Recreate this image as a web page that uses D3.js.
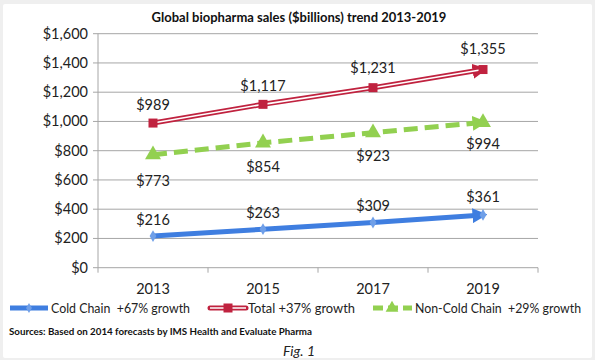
<!DOCTYPE html>
<html><head><meta charset="utf-8">
<script src="https://cdn.jsdelivr.net/npm/d3@7"></script>
<style>body{margin:0;background:#fff}svg{display:block}</style>
</head><body>
<svg id="c" width="595" height="360"></svg>
<script>
const years = ["2013","2015","2017","2019"];
const coldChain = [216,263,309,361];
const total = [989,1117,1231,1355];
const nonCold = [773,854,923,994];
const yTicks = [0,200,400,600,800,1000,1200,1400,1600];
const legendLabels = ["Cold Chain  +67% growth","Total +37% growth","Non-Cold Chain  +29% growth"];

const svg = d3.select("#c");
const font = "Lato, 'Open Sans', sans-serif";
svg.append("rect").attr("width",595).attr("height",360).attr("fill","#efefef");
svg.append("rect").attr("x",3).attr("y",4).attr("width",589).attr("height",354).attr("fill","#fff").attr("rx",2);

const x = d3.scaleBand().domain(years).range([98,538]);
const y = d3.scaleLinear().domain([0,1600]).range([267.7,33.7]);
const cx = d => x(d)+x.bandwidth()/2;

svg.append("g").selectAll("line").data(yTicks).join("line")
  .attr("x1",98).attr("x2",538).attr("y1",d=>y(d)).attr("y2",d=>y(d))
  .attr("stroke","#a6a6a6").attr("stroke-width",1);
svg.append("line").attr("x1",98).attr("x2",98).attr("y1",y(1600)).attr("y2",y(0)).attr("stroke","#a6a6a6");
svg.append("g").selectAll("line").data(yTicks).join("line")
  .attr("x1",93).attr("x2",98).attr("y1",d=>y(d)).attr("y2",d=>y(d)).attr("stroke","#a6a6a6");
const edges = years.map(d=>x(d)).concat([x(years[years.length-1])+x.bandwidth()]);
svg.append("g").selectAll("line").data(edges).join("line")
  .attr("x1",d=>d).attr("x2",d=>d).attr("y1",y(0)).attr("y2",y(0)+5).attr("stroke","#a6a6a6");

svg.append("g").selectAll("text").data(yTicks).join("text")
  .attr("x",88).attr("y",d=>y(d)+5).attr("text-anchor","end")
  .attr("font-family",font).attr("font-size",14.5).attr("fill","#222")
  .text(d=>"$"+d3.format(",")(d));
svg.append("g").selectAll("text").data(years).join("text")
  .attr("x",d=>cx(d)).attr("y",294).attr("text-anchor","middle")
  .attr("font-family",font).attr("font-size",14.5).attr("fill","#222").text(d=>d);

svg.append("text").attr("x",299).attr("y",22).attr("text-anchor","middle")
  .attr("font-family",font).attr("font-weight","bold").attr("font-size",13).attr("fill","#111")
  .text("Global biopharma sales ($billions) trend 2013-2019");

const blue="#3f7ee0", red="#c0223f", green="#92d050";
const defs = svg.append("defs");
function arrow(id,color){
  defs.append("marker").attr("id",id).attr("viewBox","0 0 10 10").attr("refX",7).attr("refY",5)
    .attr("markerWidth",3).attr("markerHeight",3).attr("orient","auto").attr("markerUnits","strokeWidth")
    .append("path").attr("d","M0,0L10,5L0,10z").attr("fill",color);
}
arrow("ab",blue); arrow("ar",red); arrow("ag",green);

const line = d3.line().x(d=>cx(d[0])).y(d=>y(d[1]));
function pts(vals){return years.map((yr,i)=>[yr,vals[i]]);}

svg.append("path").attr("d",line(pts(total))).attr("fill","none").attr("stroke",red).attr("stroke-width",5).attr("marker-end","url(#ar)");
svg.append("path").attr("d",line(pts(total))).attr("fill","none").attr("stroke","#fff").attr("stroke-width",1.6);
svg.append("g").selectAll("rect").data(pts(total)).join("rect")
  .attr("x",d=>cx(d[0])-4.5).attr("y",d=>y(d[1])-4.5).attr("width",9).attr("height",9).attr("fill",red);

svg.append("path").attr("d",line(pts(nonCold))).attr("fill","none").attr("stroke",green).attr("stroke-width",5)
  .attr("stroke-dasharray","14,7").attr("marker-end","url(#ag)");
svg.append("g").selectAll("path").data(pts(nonCold)).join("path")
  .attr("transform",d=>`translate(${cx(d[0])},${y(d[1])})`)
  .attr("d",d3.symbol(d3.symbolTriangle,110)).attr("fill",green);

svg.append("path").attr("d",line(pts(coldChain))).attr("fill","none").attr("stroke",blue).attr("stroke-width",5).attr("marker-end","url(#ab)");
svg.append("g").selectAll("path").data(pts(coldChain)).join("path")
  .attr("transform",d=>`translate(${cx(d[0])},${y(d[1])})`)
  .attr("d",d3.symbol(d3.symbolDiamond,40)).attr("fill","#6f9fe8");

const lbl = (vals,dy) => svg.append("g").selectAll("text").data(pts(vals)).join("text")
  .attr("x",d=>cx(d[0])).attr("y",(d,i)=>y(d[1])+dy[i]).attr("text-anchor","middle")
  .attr("font-family",font).attr("font-size",14.5).attr("fill","#222").text(d=>"$"+d3.format(",")(d[1]));
lbl(total,[-13,-13,-15,-16]);
lbl(nonCold,[31,29,28,27]);
lbl(coldChain,[-11,-11,-12,-13]);

const ly = 308;
svg.append("line").attr("x1",10).attr("x2",48).attr("y1",ly).attr("y2",ly).attr("stroke",blue).attr("stroke-width",5);
svg.append("path").attr("transform",`translate(29,${ly})`).attr("d",d3.symbol(d3.symbolDiamond,30)).attr("fill","#6f9fe8");
svg.append("line").attr("x1",210).attr("x2",246).attr("y1",ly).attr("y2",ly).attr("stroke",red).attr("stroke-width",5).attr("stroke-linecap","round");
svg.append("line").attr("x1",210).attr("x2",246).attr("y1",ly).attr("y2",ly).attr("stroke","#fff").attr("stroke-width",1.6);
svg.append("rect").attr("x",223.5).attr("y",ly-4.5).attr("width",9).attr("height",9).attr("fill",red);
svg.append("line").attr("x1",373).attr("x2",412).attr("y1",ly).attr("y2",ly).attr("stroke",green).attr("stroke-width",5).attr("stroke-dasharray","10,5");
svg.append("path").attr("transform",`translate(392,${ly})`).attr("d",d3.symbol(d3.symbolTriangle,70)).attr("fill",green);

const lx = [51,248,415];
const lw = [139,107,166];
svg.append("g").selectAll("text").data(legendLabels).join("text")
  .attr("x",(d,i)=>lx[i]).attr("y",ly+5).attr("font-family",font).attr("font-size",13)
  .attr("textLength",(d,i)=>lw[i]).attr("lengthAdjust","spacingAndGlyphs")
  .style("white-space","pre")
  .attr("fill","#222").text(d=>d);

svg.append("text").attr("x",9).attr("y",335).attr("font-family",font).attr("font-weight","bold")
  .attr("font-size",10).attr("fill","#111").attr("textLength",303).attr("lengthAdjust","spacingAndGlyphs")
  .text("Sources: Based on 2014 forecasts by IMS Health and Evaluate Pharma");
svg.append("text").attr("x",283).attr("y",356).attr("font-family",font).attr("font-style","italic")
  .attr("font-size",14).attr("fill","#222").text("Fig. 1");
</script>
</body></html>
